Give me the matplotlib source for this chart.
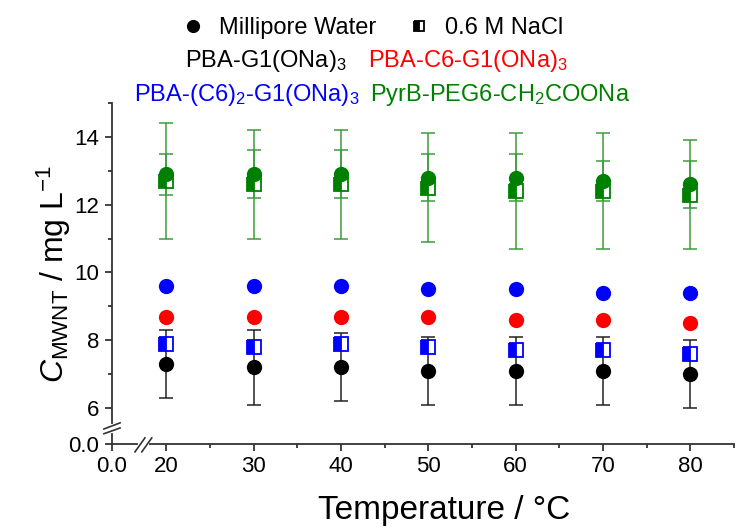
import numpy as np
import matplotlib
matplotlib.use("Agg")
import matplotlib.pyplot as plt
from matplotlib.lines import Line2D

plt.rcParams["font.family"] = ["Liberation Sans", "DejaVu Sans"]
plt.rcParams["mathtext.fontset"] = "custom"
plt.rcParams["mathtext.rm"] = "Liberation Sans"
plt.rcParams["mathtext.it"] = "Liberation Sans:italic"

# temperatures (°C)
temps = [20, 30, 40, 50, 60, 70, 80]

# C_MWNT (mg/L), Millipore water
g1_water = [7.3, 7.2, 7.2, 7.1, 7.1, 7.1, 7.0]
g1_water_err = [1.0, 1.1, 1.0, 1.0, 1.0, 1.0, 1.0]
c6_water = [8.7, 8.7, 8.7, 8.7, 8.6, 8.6, 8.5]
c6c6_water = [9.6, 9.6, 9.6, 9.5, 9.5, 9.4, 9.4]
peg_water = [12.9, 12.9, 12.9, 12.8, 12.8, 12.7, 12.6]
peg_water_err = [0.6, 0.7, 0.7, 0.7, 0.7, 0.6, 0.7]

# C_MWNT (mg/L), 0.6 M NaCl
c6c6_nacl = [7.9, 7.8, 7.9, 7.8, 7.7, 7.7, 7.6]
peg_nacl = [12.7, 12.6, 12.6, 12.5, 12.4, 12.4, 12.3]
peg_nacl_err = [1.7, 1.6, 1.6, 1.6, 1.7, 1.7, 1.6]

GREEN = "#008000"
GREEN_BAR = "#3c9c3c"


# broken axes: squeeze the stretch between 0 and the first data
def fx(x):
    x = np.asarray(x, dtype=float)
    return np.where(x >= 17.5, x, 13.8 + x * (17.5 - 13.8) / 17.5)


def fx_inv(u):
    u = np.asarray(u, dtype=float)
    return np.where(u >= 17.5, u, (u - 13.8) * 17.5 / (17.5 - 13.8))


def fy(y):
    y = np.asarray(y, dtype=float)
    return np.where(y >= 5.5, y, 4.94 + y * (5.5 - 4.94) / 5.5)


def fy_inv(u):
    u = np.asarray(u, dtype=float)
    return np.where(u >= 5.5, u, (u - 4.94) * 5.5 / (5.5 - 4.94))


fig = plt.figure(figsize=(7.49, 5.27), dpi=100)
ax = fig.add_axes([0.1495, 0.1575, 0.8305, 0.6471])
ax.set_xscale("function", functions=(fx, fx_inv))
ax.set_yscale("function", functions=(fy, fy_inv))

ms_c = 11
ms_s = 9.5
cap = 5

# green, NaCl (square) with wide error bars
ax.errorbar(temps, peg_nacl, yerr=peg_nacl_err, fmt="none", ecolor=GREEN_BAR,
            elinewidth=1.1, capsize=cap, capthick=1.1, zorder=2)
ax.plot(temps, peg_nacl, "s", ms=ms_s, color=GREEN, fillstyle="left",
        markerfacecoloralt="white", mec=GREEN, mew=1.3, zorder=3)
ax.errorbar(temps, peg_water, yerr=peg_water_err, fmt="none", ecolor=GREEN_BAR,
            elinewidth=1.1, capsize=cap, capthick=1.1, zorder=2)
ax.plot(temps, peg_water, "o", ms=ms_c, color=GREEN, mec="none", zorder=4)

ax.plot(temps, c6c6_water, "o", ms=ms_c, color="#0000ff", mec="none", zorder=4)
ax.plot(temps, c6_water, "o", ms=ms_c, color="#ff0000", mec="none", zorder=4)

ax.errorbar(temps, g1_water, yerr=g1_water_err, fmt="none", ecolor="#222222",
            elinewidth=1.1, capsize=cap, capthick=1.1, zorder=2)
ax.plot(temps, c6c6_nacl, "s", ms=ms_s, color="#0000ff", fillstyle="left",
        markerfacecoloralt="white", mec="#0000ff", mew=1.3, zorder=3)
ax.plot(temps, g1_water, "o", ms=ms_c, color="black", mec="none", zorder=4)

ax.set_xlim(0, 85)
ax.set_ylim(0, 15)
ax.set_xticks([0, 20, 30, 40, 50, 60, 70, 80])
ax.set_xticklabels(["0.0", "20", "30", "40", "50", "60", "70", "80"])
ax.set_xticks([25, 35, 45, 55, 65, 75, 85], minor=True)
ax.set_yticks([0, 6, 8, 10, 12, 14])
ax.set_yticklabels(["0.0", "6", "8", "10", "12", "14"])
ax.set_yticks([7, 9, 11, 13, 15], minor=True)

for side in ("top", "right"):
    ax.spines[side].set_visible(False)
for side in ("left", "bottom"):
    ax.spines[side].set_linewidth(1.3)
    ax.spines[side].set_color("#333333")
ax.tick_params(which="major", direction="out", length=5, width=1.3,
               color="#333333", labelsize=16, pad=4)
ax.tick_params(which="minor", direction="out", length=3, width=1.3,
               color="#333333")

# break marks
kw = dict(transform=ax.transAxes, clip_on=False, zorder=10)
ax.plot([0.045, 0.056], [0, 0], color="white", lw=3, **kw)
ax.plot([0.037, 0.053], [-0.023, 0.018], color="#333333", lw=1.2, **kw)
ax.plot([0.048, 0.064], [-0.023, 0.018], color="#333333", lw=1.2, **kw)
ax.plot([0, 0], [0.039, 0.052], color="white", lw=3, **kw)
ax.plot([-0.013, 0.013], [0.044, 0.062], color="#333333", lw=1.2, **kw)
ax.plot([-0.013, 0.013], [0.030, 0.047], color="#333333", lw=1.2, **kw)

ax.set_xlabel("Temperature / °C", fontsize=24)
ax.xaxis.set_label_coords(0.534, -0.15)
ax.set_ylabel(r"$C_{\mathrm{MWNT}}$ / mg L$^{-1}$", fontsize=23)
ax.yaxis.set_label_coords(-0.062, 0.5)

# legend for the two media
handles = [
    Line2D([], [], ls="none", marker="o", ms=9.5, color="black", mec="none"),
    Line2D([], [], ls="none", marker="s", ms=7.5, color="black",
           fillstyle="left", markerfacecoloralt="white", mec="black", mew=1.3),
]
fig.legend(handles, ["Millipore Water", "0.6 M NaCl"], loc="center",
           bbox_to_anchor=(0.497, 0.947), ncol=2, frameon=False, fontsize=17,
           handlelength=1.0, handletextpad=0.6, columnspacing=1.3)

# compound names
fig.text(0.247, 1 - 67 / 527, "PBA-G1(ONa)$_3$", fontsize=17, color="black",
         va="baseline")
fig.text(0.491, 1 - 67 / 527, "PBA-C6-G1(ONa)$_3$", fontsize=17,
         color="#ff0000", va="baseline")
fig.text(0.179, 1 - 101 / 527, "PBA-(C6)$_2$-G1(ONa)$_3$", fontsize=17,
         color="#0000ff", va="baseline")
fig.text(0.494, 1 - 101 / 527, "PyrB-PEG6-CH$_2$COONa", fontsize=17,
         color=GREEN, va="baseline")

fig.savefig("out.png", dpi=100)
